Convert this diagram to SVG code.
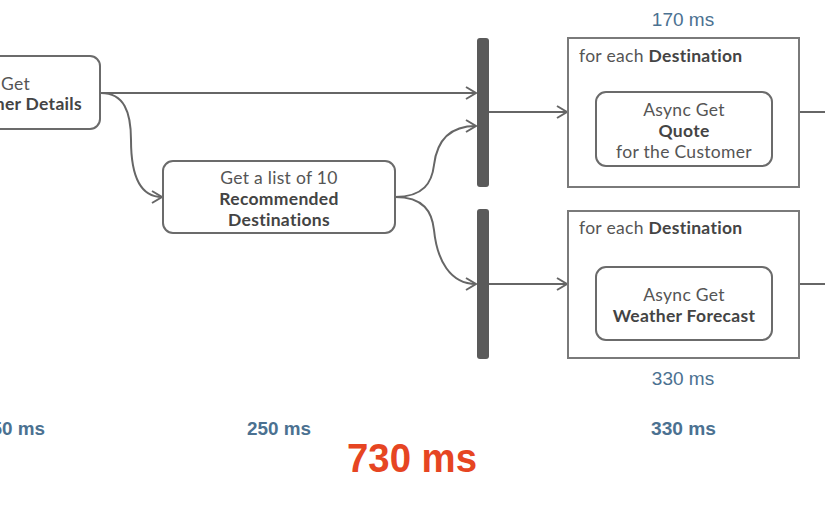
<svg xmlns="http://www.w3.org/2000/svg" width="825" height="510" viewBox="0 0 825 510">
<style>
.box{fill:#fff;stroke:#6b6b6b;stroke-width:2}
.frame{fill:#fff;stroke:#7a7a7a;stroke-width:2}
.bar{fill:#5a5a5a}
.t{font-family:Lato,"Open Sans",sans-serif;font-size:17.5px;letter-spacing:0.3px;fill:#555}
.b{font-weight:bold;fill:#444}
.c{text-anchor:middle}
.ms{font-family:"Liberation Sans",Arial,sans-serif;fill:#4b7191}
.conn path{fill:none;stroke:#666;stroke-width:2}
</style>
<defs>
<marker id="ah" markerUnits="userSpaceOnUse" markerWidth="14" markerHeight="16" refX="11" refY="7" orient="auto" viewBox="0 0 14 14">
<path d="M1,1 L11,7 L1,13" fill="none" stroke="#666" stroke-width="2"/>
</marker>
</defs>
<rect width="825" height="510" fill="#fff"/>

<g id="conn" class="conn">
<path d="M101,93 L476,93" marker-end="url(#ah)"/>
<path d="M101,93 C124,93 131,112 131,140 C131,175 140,197 162,197" marker-end="url(#ah)"/>
<path d="M395,197 C424,197 432,182 434,165 C437,140 450,126 476,126" marker-end="url(#ah)"/>
<path d="M395,197 C424,197 432,212 434,230 C437,260 450,284 476,284" marker-end="url(#ah)"/>
<path d="M489,112 L567,112" marker-end="url(#ah)"/>
<path d="M489,284 L567,284" marker-end="url(#ah)"/>
<path d="M799,112 L826,112"/>
<path d="M799,284 L826,284"/>
</g>

<g id="node-customer">
<rect class="box" x="-120" y="56" width="220" height="73" rx="10"/>
<text class="t" x="1" y="90">Get</text>
<text class="t b" x="82" y="110" text-anchor="end">Customer Details</text>
</g>

<g id="node-recommended">
<rect class="box" x="163" y="161" width="232" height="72" rx="10"/>
<text class="t c" x="279" y="184">Get a list of 10</text>
<text class="t b c" x="279" y="205">Recommended</text>
<text class="t b c" x="279" y="226">Destinations</text>
</g>

<g id="bar1"><rect class="bar" x="477" y="38" width="12" height="149" rx="3"/></g>
<g id="bar2"><rect class="bar" x="477" y="209" width="12" height="150" rx="3"/></g>

<g id="loop-quote">
<rect class="frame" x="568" y="38" width="231" height="149"/>
<text class="t" x="579" y="62">for each <tspan class="b">Destination</tspan></text>
<rect class="box" x="596" y="92" width="176" height="74" rx="10"/>
<text class="t c" x="684" y="116">Async Get</text>
<text class="t b c" x="684" y="137">Quote</text>
<text class="t c" x="684" y="158">for the Customer</text>
</g>

<g id="loop-weather">
<rect class="frame" x="568" y="211" width="231" height="147"/>
<text class="t" x="579" y="234">for each <tspan class="b">Destination</tspan></text>
<rect class="box" x="596" y="267" width="176" height="73" rx="10"/>
<text class="t c" x="684" y="301">Async Get</text>
<text class="t b c" x="684" y="322">Weather Forecast</text>
</g>

<g id="labels">
<text class="ms c" x="683" y="26" font-size="19">170 ms</text>
<text class="ms c" x="683" y="385" font-size="19">330 ms</text>
<text class="ms" x="45" y="435" font-size="18" font-weight="bold" text-anchor="end" textLength="64" lengthAdjust="spacingAndGlyphs">150 ms</text>
<text class="ms" x="247" y="435" font-size="18" font-weight="bold" textLength="64" lengthAdjust="spacingAndGlyphs">250 ms</text>
<text class="ms" x="651" y="435" font-size="18" font-weight="bold" textLength="65" lengthAdjust="spacingAndGlyphs">330 ms</text>
<text x="347" y="472" font-family="'Liberation Sans',Arial,sans-serif" font-size="41" font-weight="bold" fill="#e64522" textLength="130" lengthAdjust="spacingAndGlyphs">730 ms</text>
</g>
</svg>
